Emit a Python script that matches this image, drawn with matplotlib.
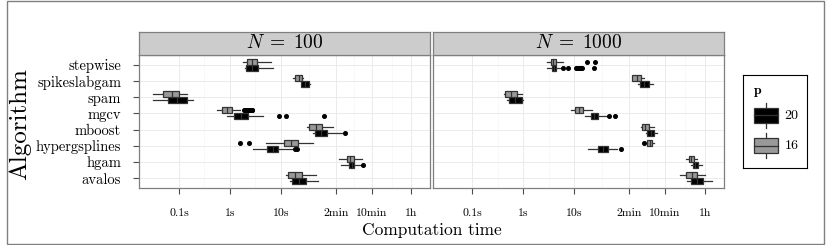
import matplotlib
matplotlib.use("Agg")
import matplotlib.pyplot as plt
import numpy as np
from matplotlib.patches import Rectangle
from matplotlib.lines import Line2D

plt.rcParams['font.family'] = ['cmr10']
plt.rcParams['mathtext.fontset'] = 'cm'
plt.rcParams['axes.formatter.use_mathtext'] = True

# ---------------- data ----------------
algorithms = ["avalos", "hgam", "hypergsplines", "mboost", "mgcv", "spam",
              "spikeslabgam", "stepwise"]          # bottom -> top
panel_titles = [r"$N\;=\;100$", r"$N\;=\;1000$"]
tick_values = [0.1, 1, 10, 120, 600, 3600]
tick_labels = ["0.1s", "1s", "10s", "2min", "10min", "1h"]
p_levels = ["20", "16"]
p_colors = ["#000000", "#999999"]

# (whisker low, q1, median, q3, whisker high) in seconds, order = algorithms
n100_p16 = [(12.8, 13.5, 18.8, 25.8, 48.5), (139, 194, 229, 270, 382),
            (5.08, 11.6, 15.9, 22.0, 43.0), (32.8, 36.2, 47.9, 62.8, 103),
            (0.548, 0.713, 0.873, 1.09, 1.59), (0.0305, 0.0492, 0.0729, 0.101, 0.142),
            (17.4, 18.8, 22.2, 26.2, 27.4), (1.80, 2.12, 2.74, 3.43, 6.31)]
n100_p20 = [(15.0, 16.4, 22.5, 30.9, 54.3), (152, 215, 243, 274, 366),
            (2.86, 5.31, 6.87, 8.93, 16.8), (41.9, 45.4, 60.0, 78.7, 157),
            (0.861, 1.21, 1.64, 2.25, 4.50), (0.0305, 0.0608, 0.0927, 0.142, 0.191),
            (24.3, 25.0, 29.9, 35.9, 37.1), (1.94, 2.06, 2.70, 3.54, 6.87)]
n1000_p16 = [(1197, 1570, 1986, 2512, 3656), (1514, 1734, 1968, 2244, 2582),
             (255, 270, 299, 330, 366), (203, 215, 247, 292, 371),
             (8.49, 10.3, 12.4, 14.8, 21.9), (0.419, 0.438, 0.574, 0.736, 0.931),
             (133, 137, 167, 206, 233), (2.88, 3.44, 3.87, 4.44, 6.08)]
n1000_p20 = [(1622, 1941, 2512, 3381, 4943), (1914, 2080, 2377, 2698, 3236),
             (18.3, 29.6, 36.6, 45.2, 68.7), (255, 270, 315, 371, 413),
             (16.2, 21.2, 24.7, 29.6, 43.2), (0.485, 0.531, 0.703, 0.931, 1.0),
             (180, 191, 236, 292, 354), (2.96, 3.61, 3.94, 4.32, 5.25)]

# outliers (seconds)
n100_p16_out = {"mgcv": [1.85, 1.95, 2.05, 2.15, 2.25, 2.35, 2.45, 2.55, 2.65, 2.75],
                "hypergsplines": [1.59, 2.33]}
n100_p20_out = {"mgcv": [9.27, 12.4, 69.7], "mboost": [180],
                "hypergsplines": [19.2, 20.3], "hgam": [411]}
n1000_p16_out = {"stepwise": [17.5, 25.1], "hypergsplines": [233]}
n1000_p20_out = {"stepwise": [5.93, 7.62, 10.8, 11.3, 11.8, 12.4, 13.0, 13.6, 14.0, 24.3],
                 "mgcv": [47.9, 63.7], "hypergsplines": [80.9]}

panels = [
    {"p20": (n100_p20, n100_p20_out), "p16": (n100_p16, n100_p16_out)},
    {"p20": (n1000_p20, n1000_p20_out), "p16": (n1000_p16, n1000_p16_out)},
]

# ---------------- layout ----------------
W, H = 831, 245
fig = plt.figure(figsize=(W / 100, H / 100), dpi=100)


def px_axes(x0, y0, x1, y1):
    return fig.add_axes([x0 / W, 1 - y1 / H, (x1 - x0) / W, (y1 - y0) / H])


edge = "#333333"
border = "#7f7f7f"
panel_x = [(139.3, 430.3), (432.6, 723.6)]
panel_top, panel_bot = 55, 188
strip_top = 32
xlim = (10 ** -1.778, 10 ** 3.927)
minor_vals = [10 ** -0.5, 10 ** 0.5, 10 ** 1.54, 10 ** 2.43, 10 ** 3.17]

for k, (x0, x1) in enumerate(panel_x):
    ax = px_axes(x0, panel_top, x1, panel_bot)
    ax.set_xscale("log")
    ax.set_xlim(*xlim)
    ax.set_ylim(0.4, 8.6)
    for v in minor_vals:
        ax.axvline(v, color="#f7f7f7", lw=0.6, zorder=0)
    for v in tick_values:
        ax.axvline(v, color="#ebebeb", lw=0.7, zorder=0)
    for y in range(1, 9):
        ax.axhline(y, color="#ebebeb", lw=0.7, zorder=0)

    for key, color, off in (("p20", p_colors[0], -0.1875), ("p16", p_colors[1], 0.1875)):
        stats_list, outs = panels[k][key]
        stats = []
        for name, s in zip(algorithms, stats_list):
            stats.append({"whislo": s[0], "q1": s[1], "med": s[2], "q3": s[3],
                          "whishi": s[4], "fliers": outs.get(name, [])})
        ax.bxp(stats, positions=np.arange(1, 9) + off, widths=0.375,
               orientation="horizontal", patch_artist=True, showcaps=False,
               manage_ticks=False,
               boxprops=dict(facecolor=color, edgecolor=edge, linewidth=0.9),
               whiskerprops=dict(color=edge, linewidth=0.9),
               medianprops=dict(color=edge, linewidth=0.9),
               flierprops=dict(marker="o", markerfacecolor="black",
                               markeredgecolor="black", markersize=2.6))

    ax.set_xticks(tick_values)
    ax.set_xticklabels(tick_labels, fontsize=8.5)
    ax.xaxis.set_minor_locator(matplotlib.ticker.NullLocator())
    ax.tick_params(axis="x", length=4, width=0.8, color="#4d4d4d", pad=11)
    if k == 0:
        ax.set_yticks(range(1, 9))
        ax.set_yticklabels(algorithms, fontsize=10.5)
        ax.tick_params(axis="y", length=4, width=0.8, color="#4d4d4d", pad=9)
    else:
        ax.set_yticks([])
    for sp in ax.spines.values():
        sp.set_color(border)
        sp.set_linewidth(0.9)

    sax = px_axes(x0, strip_top, x1, panel_top)
    sax.set_facecolor("#cccccc")
    sax.set_xticks([])
    sax.set_yticks([])
    for sp in sax.spines.values():
        sp.set_color(border)
        sp.set_linewidth(0.9)
    sax.text(0.5, 0.5, panel_titles[k], transform=sax.transAxes,
             ha="center", va="center", fontsize=14)

fig.text(20 / W, 1 - 124.5 / H, "Algorithm", rotation=90, ha="center",
         va="center", fontsize=18)
fig.text(431.5 / W, 1 - 230 / H, "Computation time", ha="center",
         va="center", fontsize=12.5)

# legend
lax = px_axes(742.7, 75, 806.7, 168)
lax.set_xlim(0, 64)
lax.set_ylim(93, 0)
lax.set_xticks([])
lax.set_yticks([])
for sp in lax.spines.values():
    sp.set_color("black")
    sp.set_linewidth(0.8)
lax.text(11, 16, "p", fontfamily="cmb10", fontsize=10, ha="left", va="center")
for i, (lab, col) in enumerate(zip(p_levels, p_colors)):
    cy = 40.5 + 30 * i
    lax.add_line(Line2D([23.5, 23.5], [cy - 12.5, cy + 12.5], color=edge, lw=0.9))
    lax.add_patch(Rectangle((11.5, cy - 7.8), 24, 15.6, facecolor=col,
                            edgecolor=edge, lw=0.9, zorder=3))
    lax.add_line(Line2D([11.5, 35.5], [cy, cy], color=edge, lw=0.9, zorder=4))
    lax.text(42, cy, lab, fontsize=10, ha="left", va="center")

fig.add_artist(Rectangle((6.5 / W, 1 - 243.5 / H), (823.5 - 6.5) / W, 242 / H,
                         transform=fig.transFigure, fill=False,
                         edgecolor="#808080", lw=1.0))

fig.savefig("out.png", dpi=100)
